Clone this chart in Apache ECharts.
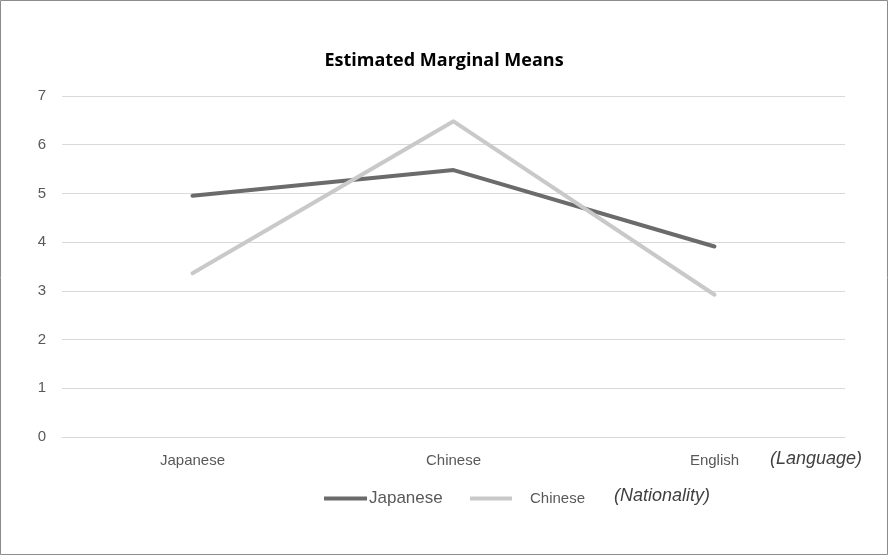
<!DOCTYPE html>
<html>
<head>
<meta charset="utf-8">
<script src="https://cdn.jsdelivr.net/npm/echarts@6/dist/echarts.min.js"></script>
<style>
  html, body { margin: 0; padding: 0; background: #ffffff; }
  #chart { width: 888px; height: 555px; }
</style>
</head>
<body>
<div id="chart"></div>
<script>
// Language categories on the x-axis
const languages = ['Japanese', 'Chinese', 'English'];
// Estimated marginal means per nationality group
const japaneseMeans = [4.95, 5.48, 3.91];
const chineseMeans = [3.36, 6.48, 2.92];
// Y-axis range
const yMin = 0;
const yMax = 7;
const yStep = 1;

const chart = echarts.init(document.getElementById('chart'));
const labelFont = '"Liberation Sans", Arial, sans-serif';

chart.setOption({
  backgroundColor: '#ffffff',
  animation: false,
  title: {
    text: 'Estimated Marginal Means',
    left: 'center',
    top: 47,
    textStyle: { fontFamily: '"Open Sans", "Noto Sans", sans-serif', fontWeight: 'bold', fontSize: 18, color: '#000000' }
  },
  grid: { left: 62, right: 43, top: 96, bottom: 118 },
  legend: [
    {
      data: ['Japanese'],
      left: 319, top: 485,
      itemWidth: 43, itemHeight: 4,
      icon: 'rect',
      textStyle: { fontFamily: labelFont, fontSize: 17, color: '#595959', padding: [0, 0, 0, -3] }
    },
    {
      data: ['Chinese'],
      left: 465, top: 486,
      itemWidth: 42, itemHeight: 4,
      icon: 'rect',
      textStyle: { fontFamily: labelFont, fontSize: 15, color: '#595959', padding: [0, 0, 0, 13] }
    }
  ],
  xAxis: {
    type: 'category',
    data: languages,
    boundaryGap: true,
    axisLine: { show: true, lineStyle: { color: '#d9d9d9', width: 1 } },
    axisTick: { show: false },
    axisLabel: { margin: 16, fontFamily: labelFont, fontSize: 15, color: '#595959' }
  },
  yAxis: {
    type: 'value',
    min: yMin, max: yMax, interval: yStep,
    axisLine: { show: false },
    axisTick: { show: false },
    splitLine: { lineStyle: { color: '#d9d9d9', width: 1 } },
    axisLabel: { margin: 16, fontFamily: labelFont, fontSize: 15, color: '#595959' }
  },
  series: [
    {
      name: 'Japanese', type: 'line', data: japaneseMeans,
      showSymbol: false, symbol: 'none',
      color: '#6b6b6b',
      lineStyle: { width: 4, color: '#6b6b6b', cap: 'round', join: 'round' }
    },
    {
      name: 'Chinese', type: 'line', data: chineseMeans,
      showSymbol: false, symbol: 'none',
      color: '#c9c9c9',
      lineStyle: { width: 4, color: '#c9c9c9', cap: 'round', join: 'round' }
    }
  ],
  graphic: [
    {
      type: 'rect', silent: true,
      shape: { x: 0.5, y: 0.5, width: 887, height: 554 },
      style: { fill: 'none', stroke: '#8c8c8c', lineWidth: 1 }
    },
    {
      type: 'text', left: 770, top: 450,
      style: { text: '(Language)', font: 'italic 18px ' + labelFont, fill: '#404040' }
    },
    {
      type: 'text', left: 614, top: 487,
      style: { text: '(Nationality)', font: 'italic 18px ' + labelFont, fill: '#404040' }
    }
  ]
});
</script>
</body>
</html>
